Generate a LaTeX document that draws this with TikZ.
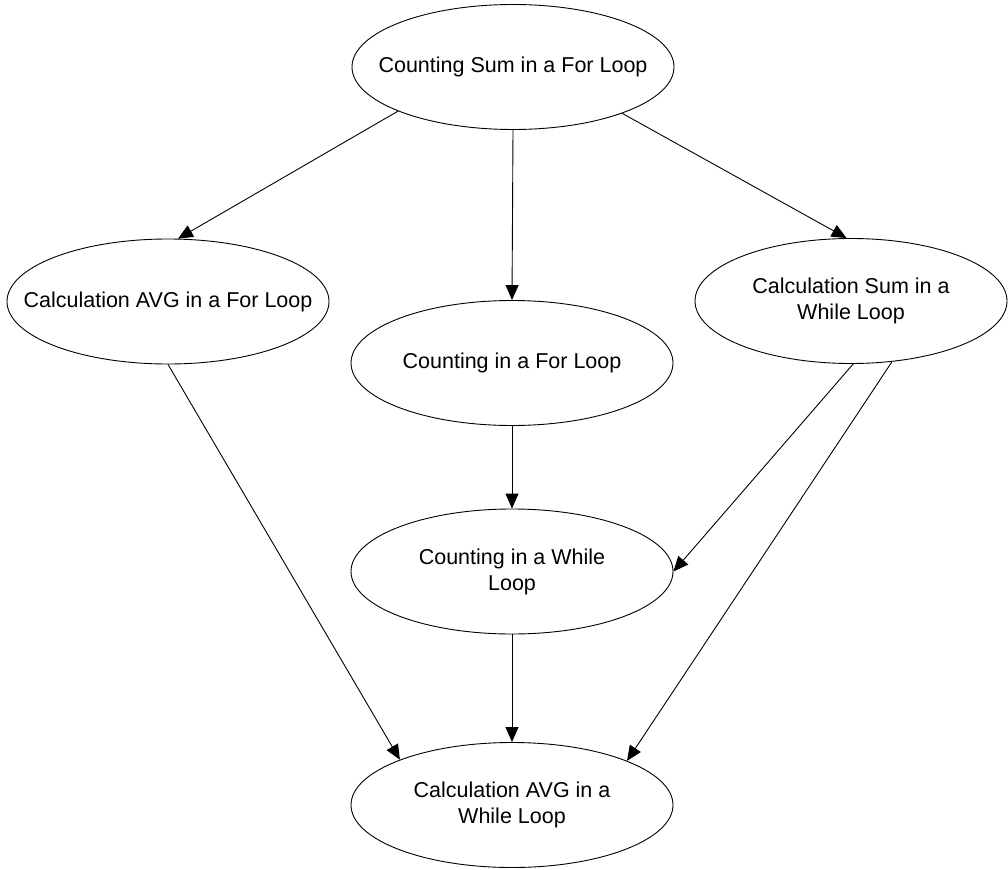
\documentclass[tikz,border=0pt]{standalone}
\usepackage{fontspec}
\setmainfont{Liberation Sans}
\usetikzlibrary{arrows.meta,shapes.geometric}
\tikzset{
  oval/.style={ellipse, draw=black, line width=0.9pt, inner sep=0pt,
    minimum width=322pt, minimum height=125pt,
    label={[align=center,font=\fontsize{21.5}{26}\selectfont,inner sep=0pt]center:#1}},
  conn/.style={draw=black, line width=0.9pt,
    -{Triangle[length=15pt,width=13pt]}}
}
\begin{document}
\begin{tikzpicture}[x=1pt,y=-1pt]
\useasboundingbox (0,0) rectangle (1008,869);
\node[oval={Counting Sum in a For Loop}] (top) at (513,67) {};
\node[oval={Calculation AVG in a For Loop}] (avgfor) at (168,301.5) {};
\node[oval={Counting in a For Loop}] (cfor) at (512,363) {};
\node[oval={Calculation Sum in a\\While Loop}, minimum width=312pt] (sumwhile) at (851,301) {};
\node[oval={Counting in a While\\Loop}] (cwhile) at (512,571.5) {};
\node[oval={Calculation AVG in a\\While Loop}] (avgwhile) at (512,805) {};
\draw[conn] (top.201.8) -- (avgfor.81);
\draw[conn] (top.south) -- (cfor.north);
\draw[conn] (top.337.7) -- (sumwhile.94);
\draw[conn] (avgfor.south) -- (avgwhile.158.5);
\draw[conn] (cfor.south) -- (cwhile.north);
\draw[conn] (sumwhile.272) -- (cwhile.east);
\draw[conn] (sumwhile.304) -- (avgwhile.21);
\draw[conn] (cwhile.south) -- (avgwhile.north);
\end{tikzpicture}
\end{document}
